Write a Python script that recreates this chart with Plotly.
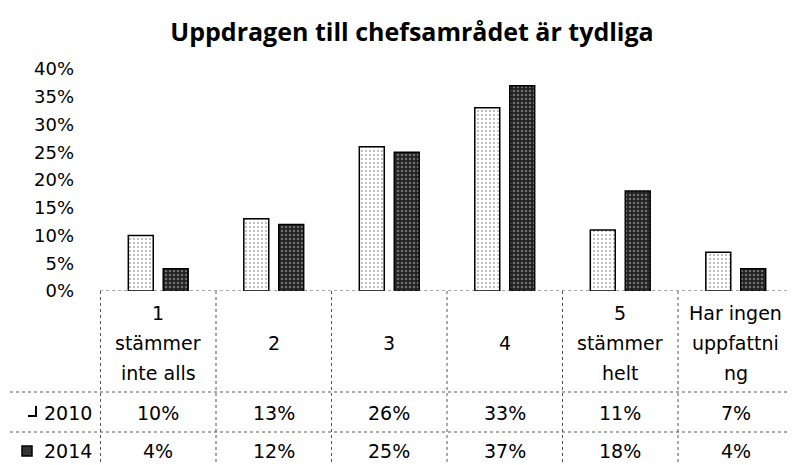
import plotly.graph_objects as go

categories = ["1 stämmer inte alls", "2", "3", "4", "5 stämmer helt", "Har ingen uppfattning"]
cat_lines = [["1", "stämmer", "inte alls"], ["2"], ["3"], ["4"], ["5", "stämmer", "helt"], ["Har ingen", "uppfattni", "ng"]]
series_names = ["2010", "2014"]
values_2010 = [10, 13, 26, 33, 11, 7]
values_2014 = [4, 12, 25, 37, 18, 4]
ytick_vals = [0, 5, 10, 15, 20, 25, 30, 35, 40]
ytick_text = [f"{v}%" for v in ytick_vals]
title = "Uppdragen till chefsamrådet är tydliga"

# page has an 8px body margin; figure is sized to fit inside the 795x465 window
OFF = 8
W, H = 795 - OFF, 465 - OFF
PL, PR, PT, PB = 100, 794, 69, 291          # plot area in window pixels
L, R, T, B = PL - OFF, W - (PR - OFF), PT - OFF, H - (PB - OFF)
pw, ph = PR - PL, PB - PT
TFONT = "DejaVu Sans"


def py(p):  # window pixel y -> paper y
    return (PB - p) / ph


def px(p):  # window pixel x -> paper x
    return (p - PL) / pw


fig = go.Figure()
fig.add_bar(
    x=categories, y=values_2010, name=series_names[0],
    marker=dict(color="white", line=dict(color="black", width=1.5),
                pattern=dict(shape=".", fgcolor="#555", bgcolor="white", size=4, solidity=0.2)),
)
fig.add_bar(
    x=categories, y=values_2014, name=series_names[1],
    marker=dict(color="#333", line=dict(color="black", width=1.5),
                pattern=dict(shape=".", fgcolor="#bbb", bgcolor="#222", size=4, solidity=0.3)),
)

annotations = []
# category labels (one annotation per line)
for i, lines in enumerate(cat_lines):
    n = len(lines)
    centers = [343] if n == 1 else [313, 343, 373]
    for line, c in zip(lines, centers):
        annotations.append(dict(x=i, y=py(c), xref="x", yref="paper", text=line,
                                showarrow=False, yanchor="middle", xanchor="center",
                                font=dict(family=TFONT, size=19, color="black")))
# data table rows
row_y = [413, 451]
for vals, ry, nm in zip([values_2010, values_2014], row_y, series_names):
    for i, v in enumerate(vals):
        annotations.append(dict(x=i, y=py(ry), xref="x", yref="paper", text=f"{v}%",
                                showarrow=False, yanchor="middle", xanchor="center",
                                font=dict(family=TFONT, size=19, color="black")))
    annotations.append(dict(x=px(94), y=py(ry), xref="paper", yref="paper", text=nm,
                            showarrow=False, yanchor="middle", xanchor="right",
                            font=dict(family=TFONT, size=19, color="black")))

shapes = []
dot = dict(color="#555", width=1, dash="dot")
# baseline
shapes.append(dict(type="line", xref="paper", yref="y", x0=0, x1=1, y0=0, y1=0, line=dot))
# table vertical lines
for k in range(len(categories) + 1):
    shapes.append(dict(type="line", xref="x", yref="paper", x0=k - 0.5, x1=k - 0.5,
                       y0=0, y1=py(465), line=dot))
# table horizontal lines
for hy in [392, 432]:
    shapes.append(dict(type="line", xref="paper", yref="paper", x0=px(10), x1=1,
                       y0=py(hy), y1=py(hy), line=dot))
# legend keys
shapes.append(dict(type="path", xref="paper", yref="paper",
                   path=f"M {px(28)} {py(416)} L {px(36)} {py(416)} L {px(36)} {py(406)}",
                   line=dict(color="black", width=2)))
shapes.append(dict(type="rect", xref="paper", yref="paper", x0=px(22), x1=px(32),
                   y0=py(456), y1=py(446), line=dict(color="black", width=1.5),
                   fillcolor="#333"))

fig.update_layout(
    width=W, height=H,
    margin=dict(l=L, r=R, t=T, b=B),
    paper_bgcolor="white", plot_bgcolor="white",
    title=dict(text=f"<b>{title}</b>", x=(412 - OFF) / W, xanchor="center",
               y=1 - (32 - OFF) / H, yanchor="middle",
               font=dict(family="Open Sans", size=25, color="black")),
    showlegend=False,
    barmode="group", bargap=0.395, bargroupgap=0.286,
    xaxis=dict(showticklabels=False, showgrid=False, zeroline=False, showline=False, ticks=""),
    yaxis=dict(range=[0, 40], tickvals=ytick_vals, ticktext=ytick_text, showgrid=False,
               zeroline=False, showline=False, ticks="", ticklabelstandoff=25,
               tickfont=dict(family=TFONT, size=18, color="black")),
    annotations=annotations,
    shapes=shapes,
    font=dict(family=TFONT),
)

fig.write_html("out.html")
